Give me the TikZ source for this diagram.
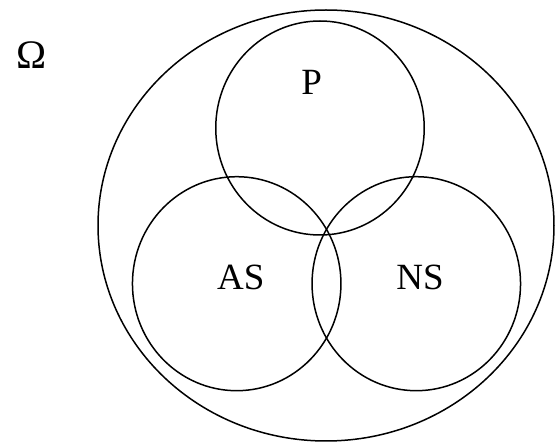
\documentclass[tikz,border=0pt]{standalone}
\usepackage{fontspec}
\setmainfont{Liberation Serif}
\usetikzlibrary{shapes.geometric}
\begin{document}
\begin{tikzpicture}[x=1pt,y=-1pt,
  setshape/.style={draw=black, line width=1.5pt, ellipse, inner sep=0pt},
  lbl/.style={inner sep=0pt, font=\fontsize{37}{40}\selectfont}]
\useasboundingbox (0,0) rectangle (558,443);
\node[setshape, minimum width=456pt, minimum height=431pt] (omega) at (326,225.5) {};
\node[setshape, minimum width=208.5pt, minimum height=214pt] (P) at (320,128) {};
\node[setshape, minimum width=208.5pt, minimum height=214pt] (AS) at (236.7,283.7) {};
\node[setshape, minimum width=208.5pt, minimum height=214pt] (NS) at (416.3,283.7) {};
\node[inner sep=0pt, font=\fontsize{40.5}{44}\selectfont] (omegalbl) at (31.7,55.5) {Ω};
\node[lbl] (Plbl) at (311.7,82.3) {P};
\node[lbl] (ASlbl) at (240.8,277.5) {AS};
\node[lbl] (NSlbl) at (420,277.5) {NS};
\end{tikzpicture}
\end{document}
